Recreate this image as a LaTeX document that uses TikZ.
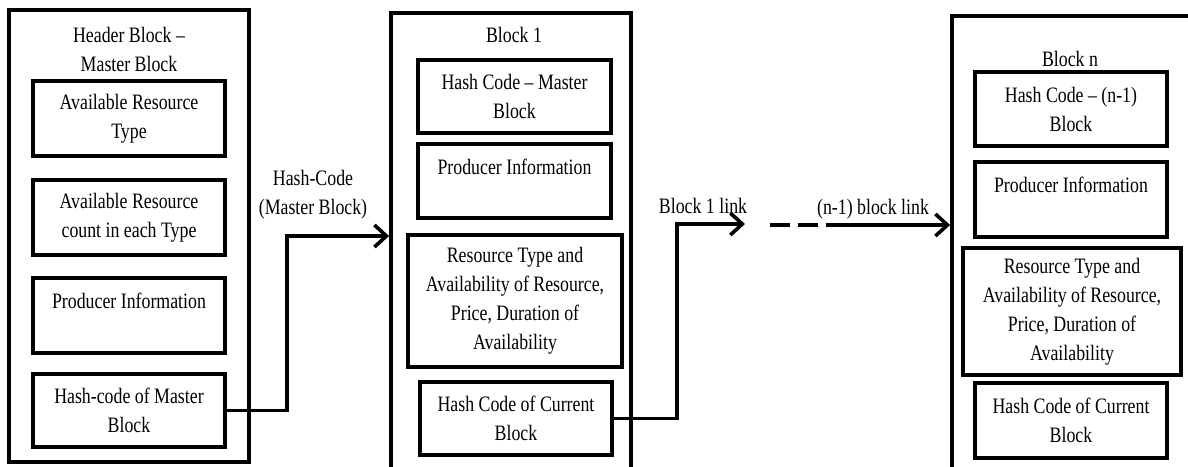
\documentclass[tikz,border=0pt]{standalone}
\usepackage{fontspec}
\setmainfont{Liberation Serif}[FakeStretch=0.81]
\usetikzlibrary{arrows.meta}

\begin{document}
\begin{tikzpicture}[x=0.5pt,y=-0.5pt,
    frame/.style={draw=black,line width=1.9pt,inner sep=0pt},
    cell/.style={draw=black,line width=1.9pt,align=center,inner sep=0pt,font=\fontsize{11}{14.5}\selectfont},
    lbl/.style={align=center,inner sep=0pt,font=\fontsize{11}{14.5}\selectfont},
    link/.style={line width=1.8pt,-{Straight Barb[length=6pt,width=11pt]}}]
    \useasboundingbox (0,0) rectangle (1188,466);
    \clip (0,0) rectangle (1188,466);

    % header (master) block
    \node[frame,minimum width=120pt,minimum height=226pt] (hdr) at (129,236) {};
    \node[lbl] (hdrtitle) at (129,49) {Header Block --\\Master Block};
    \node[cell,minimum width=96pt,minimum height=37.5pt] (hdrtype) at (129,118.5) {Available Resource\\Type};
    \node[cell,minimum width=96pt,minimum height=37.5pt] (hdrcount) at (129,217.5) {Available Resource\\count in each Type};
    \node[cell,minimum width=96pt,minimum height=37.5pt] (hdrprod) at (129,315.5) {Producer Information\\~};
    \node[cell,minimum width=96pt,minimum height=36.5pt] (hdrhash) at (129,410.5) {Hash-code of Master\\Block};

    % block 1
    \node[frame,minimum width=120pt,minimum height=233.5pt] (blk1) at (511,246.5) {};
    \node[lbl] (blk1title) at (514,35) {Block 1};
    \node[cell,minimum width=96.5pt,minimum height=36.5pt] (blk1prev) at (514.5,96.5) {Hash Code -- Master\\Block};
    \node[cell,minimum width=96.5pt,minimum height=37pt] (blk1prod) at (514.5,181) {Producer Information\\~};
    \node[cell,minimum width=107pt,minimum height=66pt] (blk1res) at (515,301) {Resource Type and\\Availability of Resource,\\Price, Duration of\\Availability};
    \node[cell,minimum width=96pt,minimum height=36.5pt] (blk1hash) at (516,418.5) {Hash Code of Current\\Block};

    % block n
    \node[frame,minimum width=124pt,minimum height=232pt] (blkn) at (1076,248) {};
    \node[lbl] (blkntitle) at (1070,59) {Block n};
    \node[cell,minimum width=96pt,minimum height=37pt] (blknprev) at (1071,109) {Hash Code -- (n-1)\\Block};
    \node[cell,minimum width=96pt,minimum height=37.5pt] (blknprod) at (1071,199.5) {Producer Information\\~};
    \node[cell,minimum width=109pt,minimum height=63.5pt] (blknres) at (1072,311.5) {Resource Type and\\Availability of Resource,\\Price, Duration of\\Availability};
    \node[cell,minimum width=96pt,minimum height=37.5pt] (blknhash) at (1071,420.5) {Hash Code of Current\\Block};

    % links
    \coordinate (via1) at (287,236);
    \coordinate (via2) at (677,224);
    \coordinate (end1) at (745,224);
    \coordinate (gapa) at (770,225);
    \coordinate (gapb) at (843,225);
    \draw[link] (hdrhash.east) -| (via1) -- (via1 -| blk1.west);
    \draw[link] (blk1hash.east) -| (via2) -- (end1);
    \draw[line width=1.8pt,dash pattern=on 10pt off 4pt] (gapa) -- (gapb);
    \draw[link] (gapb) -- (gapb -| blkn.west);
    \node[lbl] (lnk0) at (313,195) {Hash-Code\\(Master Block)};
    \node[lbl] (lnk1) at (703,206) {Block 1 link};
    \node[lbl] (lnkn) at (873,209) {(n-1) block link};
\end{tikzpicture}
\end{document}
